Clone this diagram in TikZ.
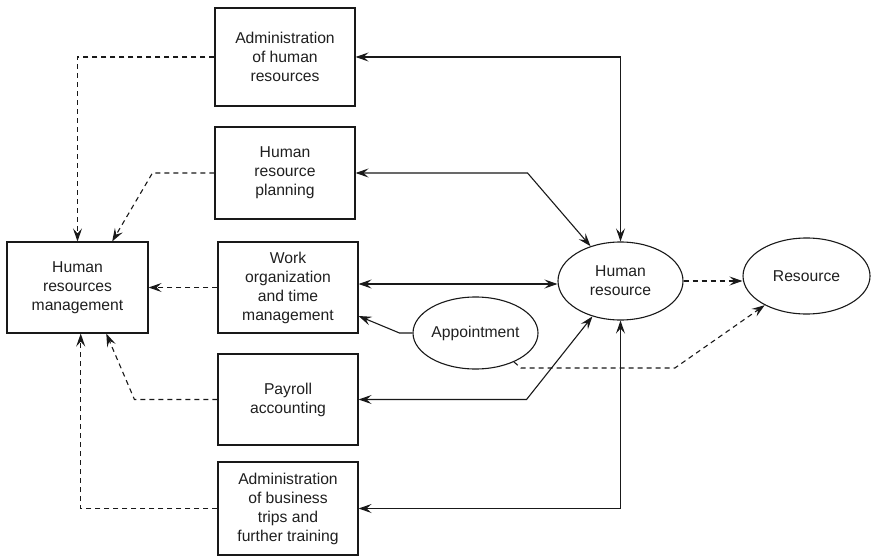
\documentclass[tikz,border=0pt]{standalone}
\usepackage{fontspec}
\setmainfont{Liberation Sans}
\usetikzlibrary{arrows.meta,calc,shapes.geometric}

\begin{document}
\begin{tikzpicture}[x=1pt,y=-1pt,
  >={Stealth[length=13pt,width=9pt,inset=5pt]},
  ink/.style={draw=black!90, line width=1.1pt},
  box/.style={ink, rectangle, minimum width=140pt, align=center,
    text=black!88, font=\fontsize{15.7}{19}\selectfont, inner sep=2pt},
  oval/.style={ink, ellipse, align=center, inner sep=0pt,
    text=black!88, font=\fontsize{15.7}{19}\selectfont},
  link/.style={ink, ->},
  both/.style={ink, <->},
  flow/.style={ink, ->, dash pattern=on 5pt off 4pt}]

\useasboundingbox (0,0) rectangle (893,556);

% processes
\node[box, minimum height=98pt] (adm) at (285,57) {Administration\\of human\\resources};
\node[box, minimum height=92pt] (plan) at (285,173) {Human\\resource\\planning};
\node[box, minimum height=91pt] (work) at (288,287.5) {Work\\organization\\and time\\management};
\node[box, minimum height=91pt] (pay) at (288,399.5) {Payroll\\accounting};
\node[box, minimum height=93pt] (trip) at (288,508.5) {Administration\\of business\\trips and\\further training};
\node[box, minimum width=141pt, minimum height=91pt] (hrm) at (77.5,287.5) {Human\\resources\\management};

% objects
\node[oval, minimum width=125pt, minimum height=78pt] (hr) at (620.5,281) {Human\\resource};
\node[oval, minimum width=127pt, minimum height=76pt] (res) at (806.5,276) {Resource};
\node[oval, minimum width=125pt, minimum height=72pt] (appt) at (475.5,333) {Appointment};

% data exchange with the human resource
\draw[both] (adm.east) -| (hr.north);
\draw[both] (plan.east) -- ++(172,0) -- (hr);
\draw[both] ($(work.east)+(0,-3.5)$) -- ($(hr.west)+(0,3)$);
\draw[link] (appt.west) -- ++(-13,0) -- ($(work.east)+(0,28.5)$);
\draw[both] (pay.east) -- ++(168,0) -- (hr);
\draw[both] (trip.east) -| (hr.south);

% specialisation
\draw[flow] (hr.east) -- (hr.east -| res.west);
\draw[flow] (appt.-37) -- ++(7,6) -- ++(154,0) -- (res);

% aggregation into human resources management
\draw[flow] (adm.west) -| (hrm.north);
\draw[flow] (plan.west) -- ++(-62,0) -- (hrm.53);
\draw[flow] (work.west) -- (hrm.east);
\draw[flow] (pay.west) -- ++(-83,0) -- (hrm.-58);
\draw[flow] (trip.west) -| (hrm.-86);
\end{tikzpicture}
\end{document}
